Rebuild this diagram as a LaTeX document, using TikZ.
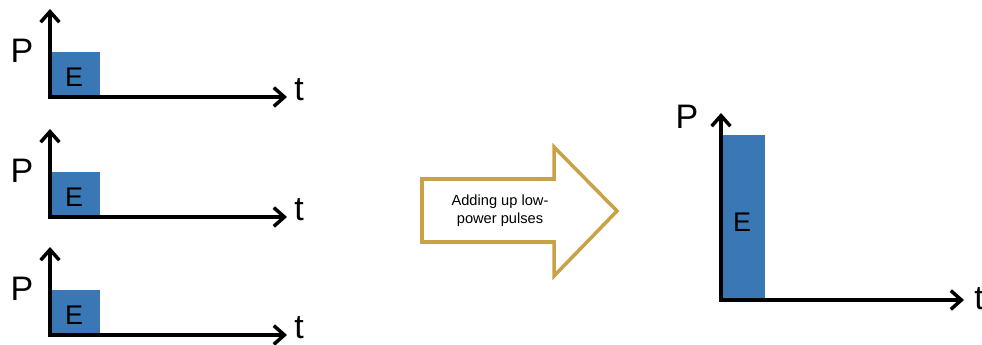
\documentclass[tikz,border=0pt]{standalone}
\usepackage{fontspec}
\setmainfont{Liberation Sans}
\usetikzlibrary{arrows.meta}
\definecolor{cpulse}{HTML}{3A77B5}
\definecolor{cgold}{HTML}{C9A245}
\tikzset{
  every picture/.style={x=0.03cm, y=-0.03cm},
  axes/.style={line width=3pt, line join=miter,
    {Straight Barb[length=9pt,width=16pt]}-{Straight Barb[length=9pt,width=16pt]}},
  lbl/.style={font=\fontsize{29}{29}\selectfont, inner sep=0pt},
  elbl/.style={font=\fontsize{23}{23}\selectfont, inner sep=0pt},
  blockarrow/.style={draw=cgold, line width=3pt, line join=miter, fill=white},
}
\def\boxw{49}
\def\boxh{45}
\begin{document}
\begin{tikzpicture}
  \path[use as bounding box] (0,0) rectangle (982,345);
  % three low-power pulses
  \foreach \yo/\n in {97/1,217/2,335/3}{
    \fill[cpulse] (51,\yo) rectangle (51+\boxw,\yo-\boxh);
    \coordinate (o\n) at (50,\yo);
    \coordinate (py\n) at (50,\yo-88);
    \coordinate (tx\n) at (287,\yo);
    \draw[axes] (py\n) -- (o\n) -- (tx\n);
    \node[elbl] (e\n) at (74,\yo-20) {E};
    \node[lbl] (p\n) at (22,\yo-46) {P};
    \node[lbl] (t\n) at (299,\yo-7) {t};
  }
  % block arrow
  \draw[blockarrow] (422,179) -- (554,179) -- (554,147) -- (617,211)
    -- (554,276) -- (554,242) -- (422,242) -- cycle;
  \node[align=center, font=\fontsize{12.5}{15}\selectfont] (add) at (500,211)
    {Adding up low-\\power pulses};
  % summed pulse
  \fill[cpulse] (723,300) rectangle (765,135);
  \coordinate (o4) at (721,300);
  \coordinate (py4) at (721,113);
  \coordinate (tx4) at (964,300);
  \draw[axes] (py4) -- (o4) -- (tx4);
  \node[elbl] (e4) at (742,222) {E};
  \node[lbl] (p4) at (687,117) {P};
  \node[lbl] (t4) at (979,299) {t};
\end{tikzpicture}
\end{document}
